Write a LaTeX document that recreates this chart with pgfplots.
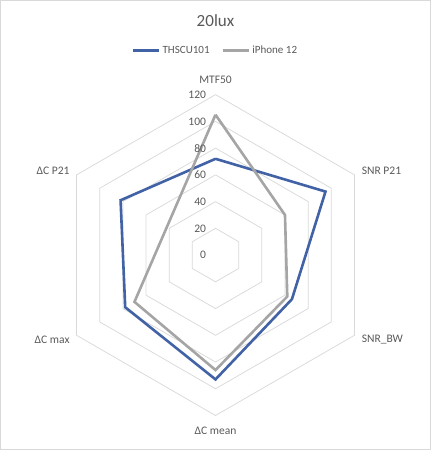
\documentclass[border=0pt]{standalone}
\usepackage{pgfplots}
\pgfplotsset{compat=1.18}
\usepackage{fontspec}
\setmainfont{Carlito}

\definecolor{serA}{HTML}{4262A6}
\definecolor{serB}{HTML}{A5A5A5}
\definecolor{gridc}{HTML}{D9D9D9}
\definecolor{txt}{HTML}{595959}

\begin{document}
\begin{tikzpicture}
\begin{axis}[
    x=1.33333bp, y=1.33333bp,
    xmin=-162, xmax=162,
    ymin=-146.25, ymax=191.25,
    hide axis,
    clip=false,
    legend columns=2,
    legend style={
        at={(axis cs:0,153)}, anchor=center,
        draw=none, fill=none,
        font=\fontsize{11bp}{13bp}\selectfont\color{txt},
        /tikz/every even column/.append style={column sep=10bp},
        inner sep=0pt,
    },
    legend image code/.code={\draw[#1] (0bp,0bp) -- (26bp,0bp);},
    every axis plot/.append style={line join=miter},
]
% frame
\draw[gridc, line width=0.8bp] (axis cs:-160.9,-145.5) rectangle (axis cs:160.9,190.5);

% hexagonal grid
\addplot[gridc, line width=0.75bp, data cs=polar, forget plot] coordinates {(90,20) (30,20) (-30,20) (-90,20) (-150,20) (150,20) (90,20)};
\addplot[gridc, line width=0.75bp, data cs=polar, forget plot] coordinates {(90,40) (30,40) (-30,40) (-90,40) (-150,40) (150,40) (90,40)};
\addplot[gridc, line width=0.75bp, data cs=polar, forget plot] coordinates {(90,60) (30,60) (-30,60) (-90,60) (-150,60) (150,60) (90,60)};
\addplot[gridc, line width=0.75bp, data cs=polar, forget plot] coordinates {(90,80) (30,80) (-30,80) (-90,80) (-150,80) (150,80) (90,80)};
\addplot[gridc, line width=0.75bp, data cs=polar, forget plot] coordinates {(90,100) (30,100) (-30,100) (-90,100) (-150,100) (150,100) (90,100)};
\addplot[gridc, line width=0.75bp, data cs=polar, forget plot] coordinates {(90,120) (30,120) (-30,120) (-90,120) (-150,120) (150,120) (90,120)};

% series: MTF50, SNR P21, SNR_BW, dC mean, dC max, dC P21
\addplot[serA, line width=2.6bp, data cs=polar] coordinates {
    (90,72) (30,95) (-30,66) (-90,93) (-150,78) (150,82) (90,72)};
\addlegendentry{THSCU101}
\addplot[serB, line width=2.6bp, data cs=polar] coordinates {
    (90,105) (30,60) (-30,62) (-90,86) (-150,70) (150,42) (90,105)};
\addlegendentry{iPhone 12}

% tick labels
\foreach \v in {0,20,...,120} {
    \edef\tmp{\noexpand\node[anchor=east, inner sep=0pt, text=txt, font=\noexpand\fontsize{11.5bp}{13bp}\noexpand\selectfont] at (axis cs:-7,\v) {\v};}
    \tmp
}

% category labels
\begin{scope}[every node/.style={text=txt, font=\fontsize{11.5bp}{13bp}\selectfont, inner sep=0pt}]
\node[anchor=center] at (axis cs:0,131.25) {MTF50};
\node[anchor=west] at (axis cs:109.3,63) {SNR P21};
\node[anchor=west] at (axis cs:109.3,-63) {SNR\_BW};
\node[anchor=center] at (axis cs:0,-131.25) {ΔC mean};
\node[anchor=east] at (axis cs:-109,-63) {ΔC max};
\node[anchor=east] at (axis cs:-109,63) {ΔC P21};
\end{scope}

% title
\node[text=txt, font=\fontsize{17bp}{20bp}\selectfont, anchor=center] at (axis cs:0,175) {20lux};
\end{axis}
\end{tikzpicture}
\end{document}
